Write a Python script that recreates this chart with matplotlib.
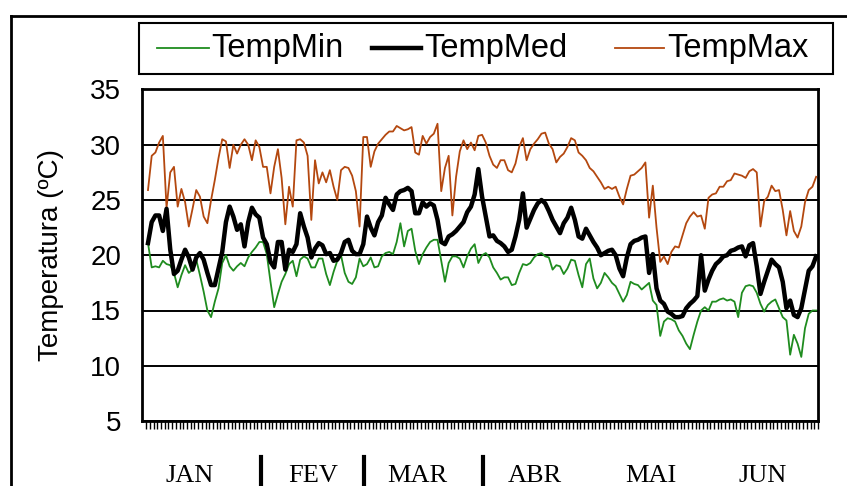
import matplotlib
matplotlib.use("Agg")
import matplotlib.pyplot as plt
from matplotlib.lines import Line2D
from matplotlib.patches import Rectangle
import numpy as np

temp_max = [25.9, 29.0, 29.3, 30.2, 30.8, 24.3, 27.5, 28.0, 24.4, 26.0,
            24.8, 22.6, 24.2, 25.9, 25.3, 23.5, 22.9, 25.0, 26.8, 28.8,
            30.5, 30.3, 27.9, 30.0, 29.2, 30.0, 30.5, 30.0, 28.6, 30.4,
            29.8, 28.0, 28.0, 25.6, 28.0, 29.6, 27.0, 22.8, 26.2, 24.4,
            30.4, 30.5, 30.2, 29.0, 23.2, 28.6, 26.5, 27.5, 26.6, 27.7,
            26.2, 25.0, 27.7, 28.0, 27.9, 27.2, 25.8, 22.6, 30.7, 30.7,
            28.0, 29.4, 30.1, 30.5, 30.9, 31.2, 31.2, 31.7, 31.5, 31.3,
            31.4, 31.6, 29.3, 29.1, 30.8, 30.1, 30.7, 31.0, 31.9, 25.8,
            27.9, 29.0, 23.6, 27.1, 29.4, 30.4, 29.6, 30.2, 29.5, 30.8,
            30.9, 30.2, 29.0, 28.2, 27.9, 28.6, 28.6, 27.7, 27.5, 28.3,
            29.8, 30.6, 28.6, 29.6, 30.1, 30.5, 31.0, 31.1, 30.1, 29.6,
            28.4, 28.9, 29.2, 29.8, 30.6, 30.4, 29.3, 29.0, 28.6, 27.9,
            27.6, 27.1, 26.6, 26.0, 26.2, 26.0, 26.2, 25.3, 24.6, 26.0,
            27.2, 27.3, 27.6, 27.9, 28.4, 23.4, 26.3, 22.5, 19.4, 19.9,
            19.2, 20.3, 20.8, 20.7, 21.8, 22.9, 23.5, 23.9, 23.5, 23.6,
            22.4, 25.2, 25.5, 25.6, 26.2, 26.2, 26.7, 26.8, 27.4, 27.3,
            27.2, 27.0, 27.6, 27.8, 27.5, 22.6, 24.9, 25.3, 26.3, 25.8,
            25.9, 24.1, 21.8, 24.0, 22.2, 21.6, 22.6, 24.8, 25.9, 26.2,
            27.1]

temp_med = [21.1, 23.0, 23.6, 23.6, 22.2, 24.2, 20.5, 18.3, 18.6, 19.6,
            20.5, 19.8, 18.7, 19.8, 20.2, 19.6, 18.4, 17.3, 17.3, 18.8,
            20.3, 23.0, 24.4, 23.5, 22.3, 22.8, 20.8, 23.0, 24.3, 23.7,
            23.4, 21.6, 21.0, 19.4, 18.9, 21.2, 21.2, 18.7, 20.5, 20.3,
            21.0, 23.8, 22.6, 21.6, 19.8, 20.6, 21.1, 20.9, 20.1, 20.2,
            19.5, 19.6, 20.2, 21.2, 21.4, 20.4, 20.1, 20.1, 21.0, 23.5,
            22.5, 21.8, 23.0, 23.6, 25.2, 24.6, 24.1, 25.5, 25.8, 25.9,
            26.1, 25.8, 23.8, 23.8, 24.8, 24.4, 24.7, 24.5, 23.2, 21.2,
            21.0, 21.7, 21.9, 22.2, 22.6, 23.0, 23.9, 24.4, 25.5, 27.8,
            25.3, 23.5, 21.7, 21.8, 21.3, 21.1, 20.8, 20.3, 20.5, 21.7,
            23.2, 25.6, 22.5, 23.3, 24.1, 24.7, 25.0, 24.7, 24.0, 23.2,
            22.6, 22.0, 22.9, 23.4, 24.3, 23.2, 21.7, 21.5, 22.4, 21.8,
            21.2, 20.7, 20.0, 20.2, 20.4, 20.5, 20.0, 18.8, 18.1, 19.8,
            21.0, 21.3, 21.4, 21.6, 21.7, 18.4, 20.1, 17.0, 15.9, 15.6,
            14.9, 14.7, 14.4, 14.4, 14.5, 15.2, 15.6, 15.9, 16.3, 20.0,
            16.8, 17.8, 18.6, 19.2, 19.5, 19.9, 20.0, 20.4, 20.5, 20.7,
            20.8, 19.9, 20.9, 21.1, 19.0, 16.5, 17.6, 18.6, 19.6, 19.2,
            18.9, 17.6, 15.2, 15.9, 14.6, 14.4, 15.2, 16.9, 18.6, 19.0,
            19.9]

temp_min = [21.1, 18.9, 19.0, 18.9, 19.5, 19.2, 19.1, 18.4, 17.1, 18.2,
            19.1, 18.4, 18.7, 19.6, 18.2, 16.7, 15.0, 14.4, 15.8, 17.0,
            19.3, 20.0, 19.0, 18.6, 19.0, 19.3, 19.0, 19.8, 20.3, 20.7,
            21.2, 21.2, 20.1, 17.6, 15.3, 16.5, 17.6, 18.3, 19.2, 19.5,
            18.1, 19.6, 19.9, 19.7, 18.9, 18.9, 19.7, 19.7, 18.3, 17.3,
            18.5, 19.5, 20.0, 18.4, 17.6, 17.4, 18.0, 19.7, 19.0, 19.2,
            19.8, 18.9, 19.0, 19.9, 20.2, 20.3, 20.1, 21.2, 22.9, 20.8,
            22.2, 22.4, 20.4, 19.2, 20.1, 20.7, 21.2, 21.4, 21.4, 19.5,
            17.6, 19.3, 19.9, 19.9, 19.7, 18.9, 19.9, 20.6, 21.0, 19.3,
            20.0, 20.2, 19.8, 18.9, 18.4, 17.8, 18.0, 18.0, 17.3, 17.4,
            18.4, 19.2, 19.1, 19.3, 19.8, 20.1, 20.2, 19.9, 19.8, 18.7,
            19.1, 19.0, 18.3, 18.8, 19.6, 19.5, 18.2, 17.1, 19.2, 19.7,
            17.9, 17.0, 17.5, 18.4, 18.0, 17.5, 17.2, 16.5, 15.8, 16.4,
            17.6, 17.4, 17.3, 16.9, 17.2, 17.5, 15.9, 15.5, 12.7, 14.0,
            14.3, 14.2, 14.0, 13.2, 12.7, 12.0, 11.5, 12.8, 14.0, 15.0,
            15.3, 15.0, 15.8, 15.8, 16.0, 16.1, 15.9, 16.0, 15.8, 14.4,
            16.6, 17.2, 17.3, 17.2, 16.6, 15.6, 14.9, 15.5, 15.8, 16.0,
            15.2, 14.4, 14.1, 11.0, 12.8, 12.0, 10.8, 13.4, 14.7, 15.0,
            15.0]

months = ["JAN", "FEV", "MAR", "ABR", "MAI", "JUN"]
month_label_pos = [11.3, 44.4, 72.6, 104.3, 135.5, 165.6]
month_separators = [30.4, 58.3, 90.3]
y_ticks = [5, 10, 15, 20, 25, 30, 35]
series_names = ["TempMin", "TempMed", "TempMax"]

W, H = 847, 486
fig = plt.figure(figsize=(W / 100, H / 100), dpi=100)
plt.rcParams['font.family'] = ['Liberation Sans', 'DejaVu Sans']

def fx(px):
    return px / W

def fy(py):
    return 1 - py / H

ax = fig.add_axes([fx(142), fy(421), fx(818) - fx(142), fy(89.5) - fy(421)])

days = np.arange(len(temp_max))
colors = ['#1F8C1F', '#000000', '#B4480F']
widths = [1.3, 3.2, 1.3]
series = [temp_min, temp_med, temp_max]
lines = []
for vals, c, lw, name, z in zip(series, colors, widths, series_names, [3, 4, 3]):
    ln, = ax.plot(days, vals, color=c, lw=lw, label=name, zorder=z)
    lines.append(ln)

px_per_day = (817.5 - 148) / 180
ax.set_xlim(-(148 - 142) / px_per_day, 180 + 0.5 / px_per_day)
ax.set_ylim(5, 35)
ax.set_yticks(y_ticks)
ax.set_yticklabels([str(v) for v in y_ticks])
ax.yaxis.grid(True, color='black', lw=1.4)
ax.set_axisbelow(True)
ax.tick_params(axis='y', length=0, pad=15, labelsize=20)
ax.set_xticks([])
ax.set_xticks(np.arange(-1, 181) + 0.5, minor=True)
ax.tick_params(axis='x', which='minor', length=6, width=1, direction='out',
               labelbottom=False)
for s in ax.spines.values():
    s.set_linewidth(2)
    s.set_color('black')

# y label
fig.text(fx(51), fy(255), "Temperatura (ºC)", rotation=90, ha='center', va='center',
         fontsize=20)

# month labels and separators
for name, pos in zip(months, month_label_pos):
    ax.text(pos, -0.165, name, transform=ax.get_xaxis_transform(), ha='center',
            va='center', fontsize=19, family='Liberation Serif')
for pos in month_separators:
    ax.add_line(Line2D([pos, pos], [-0.11, -0.2], transform=ax.get_xaxis_transform(),
                       color='black', lw=3, clip_on=False))

# outer frame
fig.add_artist(Line2D([fx(11), fx(11)], [fy(16), 0], transform=fig.transFigure,
                      color='black', lw=2))
fig.add_artist(Line2D([fx(11), 1], [fy(16), fy(16)], transform=fig.transFigure,
                      color='black', lw=2))

# legend (box, sample lines and names)
fig.add_artist(Rectangle((fx(139), fy(74)), fx(833) - fx(139), fy(23) - fy(74),
                         transform=fig.transFigure, facecolor='white',
                         edgecolor='black', lw=1.5))
leg_line_x = [(157, 209), (372, 421), (615, 664)]
leg_text_x = [211, 424, 667]
for ln, (x0, x1), tx, name in zip(lines, leg_line_x, leg_text_x, series_names):
    fig.add_artist(Line2D([fx(x0), fx(x1)], [fy(48.5), fy(48.5)], transform=fig.transFigure,
                          color=ln.get_color(), lw=ln.get_linewidth()))
    fig.text(fx(tx), fy(48.5), name, ha='left', va='center', fontsize=23.5)

fig.savefig("out.png", dpi=100)
